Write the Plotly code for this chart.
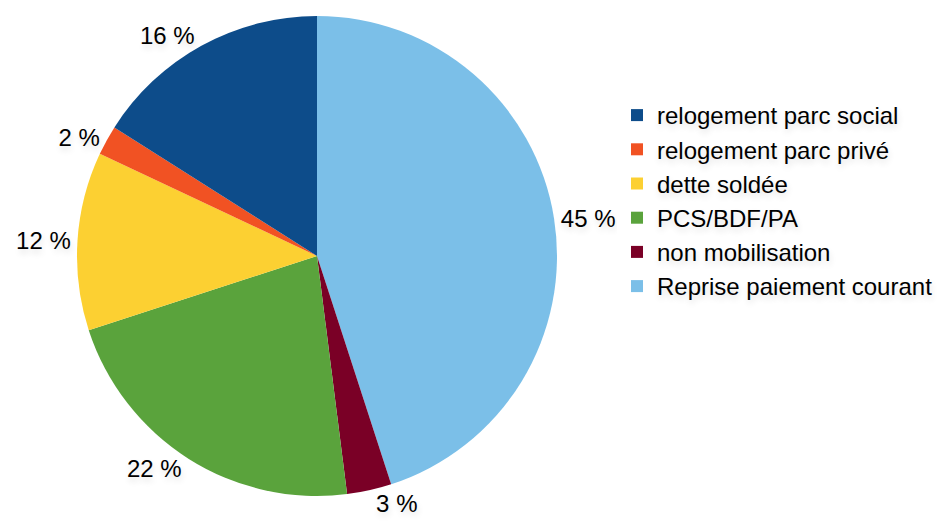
import plotly.graph_objects as go

# Slices listed clockwise from 12 o'clock
labels = [
    "Reprise paiement courant",
    "non mobilisation",
    "PCS/BDF/PA",
    "dette soldée",
    "relogement parc privé",
    "relogement parc social",
]
values = [45, 3, 22, 12, 2, 16]
colors = ["#7BBFE8", "#7A0026", "#5AA33C", "#FCD032", "#F15223", "#0D4C8A"]

W, H = 948, 526
FONT = "Liberation Sans, Arial, sans-serif"
SOFT_SHADOW = "1px 4px 6px rgba(0,0,0,0.12)"

fig = go.Figure(
    go.Pie(
        labels=labels,
        values=values,
        sort=False,
        direction="clockwise",
        rotation=0,
        marker=dict(colors=colors, line=dict(width=0)),
        textposition="outside",
        texttemplate="%{value} %",
        outsidetextfont=dict(family=FONT, size=24, color="#000", shadow=SOFT_SHADOW),
        hoverinfo="label+value",
        domain=dict(x=[77 / W, 557 / W], y=[1 - 496 / H, 1 - 16 / H]),
    )
)

fig.update_layout(
    width=W,
    height=H,
    margin=dict(l=0, r=0, t=0, b=0),
    paper_bgcolor="white",
    font=dict(family=FONT, size=24, color="#000"),
    legend=dict(
        x=617 / W,
        y=1 - 93 / H,
        xanchor="left",
        yanchor="top",
        traceorder="reversed",
        font=dict(size=24, shadow=SOFT_SHADOW),
    ),
)

fig.write_html("out.html")
